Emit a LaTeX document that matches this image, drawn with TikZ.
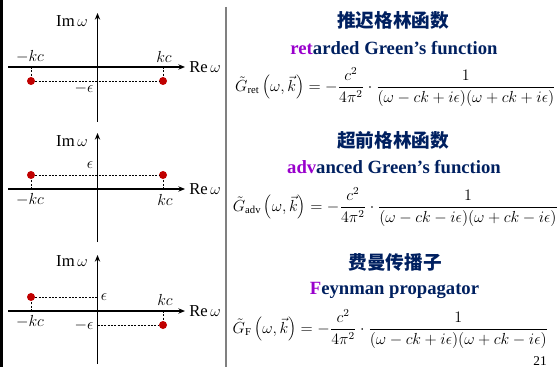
\documentclass[tikz,border=0pt]{standalone}
\usepackage{fontspec}
\setmainfont{Liberation Serif}
\newfontfamily\cjk{Noto Sans CJK SC}
\usetikzlibrary{arrows.meta}
\definecolor{navy}{RGB}{0,32,96}
\definecolor{purp}{RGB}{153,0,204}
\definecolor{dotred}{RGB}{192,0,0}
\begin{document}
\begin{tikzpicture}[x=0.75pt,y=-0.75pt,
  axis/.style={line width=0.8pt,-{Stealth[length=5pt,width=4pt]}},
  guide/.style={line width=0.5pt, dash pattern=on 1.5pt off 1pt},
  pole/.style={circle, fill=dotred, inner sep=0pt, minimum size=6pt},
  lbl/.style={font=\fontsize{12.5}{14}\selectfont, inner sep=0pt},
  title/.style={font=\cjk\bfseries\fontsize{14}{16}\selectfont, text=navy, inner sep=0pt},
  sub/.style={font=\bfseries\fontsize{14}{16}\selectfont, text=navy, inner sep=0pt},
  eq/.style={font=\fontsize{12}{14}\selectfont, inner sep=0pt}]
\useasboundingbox (0,0) rectangle (560,367);
\fill[black] (0,0) rectangle (3,367);
\coordinate (sepT) at (226,7);
\coordinate (sepB) at (226,367);
\draw[gray, line width=1.2pt] (sepT) -- (sepB);

% ---------- panel 1: retarded ----------
\coordinate (v1b) at (97.5,122); \coordinate (v1t) at (97.5,13);
\coordinate (h1l) at (8,67);     \coordinate (h1r) at (185,67);
\draw[axis] (v1b) -- (v1t);
\draw[axis] (h1l) -- (h1r);
\node[lbl] (im1) at (72,21) {$\mathrm{Im}\,\omega$};
\node[lbl,anchor=west] (re1) at (189,67) {$\mathrm{Re}\,\omega$};
\node[lbl] (mkc1) at (30,57) {$-kc$};
\node[lbl] (kc1) at (164,57) {$kc$};
\node[pole] (p1a) at (31,81) {};
\node[pole] (p1b) at (163,81) {};
\coordinate (a1a) at (31,67); \coordinate (a1b) at (163,67);
\draw[guide] (a1a) -- (p1a);
\draw[guide] (a1b) -- (p1b);
\draw[guide] (p1a) -- (p1b);
\node[lbl] (eps1) at (84,89) {$-\epsilon$};

% ---------- panel 2: advanced ----------
\coordinate (v2b) at (97.5,242); \coordinate (v2t) at (97.5,133);
\coordinate (h2l) at (8,189);    \coordinate (h2r) at (185,189);
\draw[axis] (v2b) -- (v2t);
\draw[axis] (h2l) -- (h2r);
\node[lbl] (im2) at (72,141) {$\mathrm{Im}\,\omega$};
\node[lbl,anchor=west] (re2) at (189,189) {$\mathrm{Re}\,\omega$};
\node[lbl] (mkc2) at (30,200) {$-kc$};
\node[lbl] (kc2) at (165,200) {$kc$};
\node[pole] (p2a) at (31,175) {};
\node[pole] (p2b) at (163,175) {};
\coordinate (a2a) at (31,189); \coordinate (a2b) at (163,189);
\draw[guide] (a2a) -- (p2a);
\draw[guide] (a2b) -- (p2b);
\draw[guide] (p2a) -- (p2b);
\node[lbl] (eps2) at (90,165) {$\epsilon$};

% ---------- panel 3: Feynman ----------
\coordinate (v3b) at (97.5,364); \coordinate (v3t) at (97.5,255);
\coordinate (h3l) at (8,311);    \coordinate (h3r) at (185,311);
\draw[axis] (v3b) -- (v3t);
\draw[axis] (h3l) -- (h3r);
\node[lbl] (im3) at (72,261) {$\mathrm{Im}\,\omega$};
\node[lbl,anchor=west] (re3) at (189,311) {$\mathrm{Re}\,\omega$};
\node[lbl] (mkc3) at (30,322) {$-kc$};
\node[lbl] (kc3) at (165,300) {$kc$};
\node[pole] (p3a) at (31,297) {};
\node[pole] (p3b) at (163,325) {};
\coordinate (a3a) at (31,311); \coordinate (a3b) at (163,311);
\coordinate (e3p) at (97.5,297); \coordinate (e3m) at (97.5,325);
\draw[guide] (a3a) -- (p3a);
\draw[guide] (a3b) -- (p3b);
\draw[guide] (p3a) -- (e3p);
\draw[guide] (e3m) -- (p3b);
\node[lbl] (eps3p) at (104,297) {$\epsilon$};
\node[lbl] (eps3m) at (84,325) {$-\epsilon$};

% ---------- right side texts ----------
\node[title] (t1) at (393,20) {推迟格林函数};
\node[sub] (s1) at (394,48) {\textcolor{purp}{ret}arded Green’s function};
\node[eq] (e1) at (395.5,87) {$\displaystyle \tilde{G}_{\mathrm{ret}}\left(\omega,\vec{k}\right)=-\frac{c^2}{4\pi^2}\cdot\frac{1}{(\omega-ck+i\epsilon)(\omega+ck+i\epsilon)}$};

\node[title] (t2) at (393,140) {超前格林函数};
\node[sub] (s2) at (394,167) {\textcolor{purp}{adv}anced Green’s function};
\node[eq] (e2) at (395.5,207) {$\displaystyle \tilde{G}_{\mathrm{adv}}\left(\omega,\vec{k}\right)=-\frac{c^2}{4\pi^2}\cdot\frac{1}{(\omega-ck-i\epsilon)(\omega+ck-i\epsilon)}$};

\node[title] (t3) at (395,262) {费曼传播子};
\node[sub] (s3) at (394.5,290) {\textcolor{purp}{F}eynman propagator};
\node[eq] (e3) at (390.5,329) {$\displaystyle \tilde{G}_{\mathrm{F}}\left(\omega,\vec{k}\right)=-\frac{c^2}{4\pi^2}\cdot\frac{1}{(\omega-ck+i\epsilon)(\omega+ck-i\epsilon)}$};

\node[font=\fontsize{10}{12}\selectfont, inner sep=0pt] (pg) at (540,361) {21};
\end{tikzpicture}
\end{document}
